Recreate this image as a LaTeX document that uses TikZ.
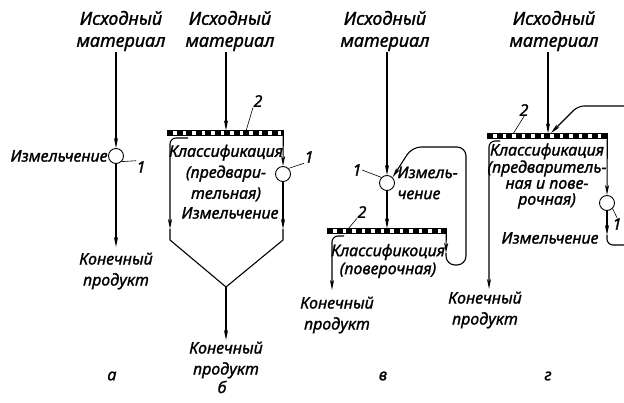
\documentclass[tikz,border=0pt]{standalone}
\usepackage{fontspec}
\setmainfont{Noto Sans}[ItalicFeatures={FakeBold=1.3}]
\usepackage{tikz}
\usetikzlibrary{arrows.meta}

\begin{document}
\begin{tikzpicture}[x=1pt, y=-1pt, line width=1.1pt,
    flow/.style={-{Stealth[length=10pt,width=4pt,inset=2.5pt]}},
    lbl/.style={font=\itshape\fontsize{16}{21}\selectfont, inner sep=0pt, align=center},
    srclbl/.style={lbl, font=\itshape\fontsize{18}{22}\selectfont},
    crusher/.style={draw, circle, fill=white, minimum size=15pt, inner sep=0pt, line width=0.9pt},
    lead/.style={line width=0.6pt},
    sieve/.style={draw, rectangle, minimum height=4.6pt, inner sep=0pt, line width=0.6pt,
      path picture={\draw[line width=4.6pt, dash pattern=on 6pt off 3.5pt]
        (path picture bounding box.west) -- (path picture bounding box.east);}}]
    \useasboundingbox (0,0) rectangle (624,403);

    \node[srclbl] (srcA) at (121,31) {Исходный\\материал};
    \node[crusher] (cA) at (116,156) {};
    \coordinate (inA) at (116,52);
    \coordinate (outA) at (116,247);
    \draw[flow] (inA) -- (cA.north);
    \draw[flow] (cA.south) -- (outA);
    \node[lbl, anchor=east] (grA) at (cA.west) {Измельчение};
    \node[lbl] (prodA) at (116,271) {Конечный\\продукт};
    \node[lbl] (n1A) at (141,167) {1};
    \draw[lead] (cA.south east) -- (n1A.north west);
    \node[lbl] (capA) at (112,376) {а};

    \node[srclbl] (srcB) at (230,31) {Исходный\\материал};
    \node[sieve, minimum width=116pt] (sB) at (225,133) {};
    \node[crusher] (cB) at (283,174) {};
    \coordinate (inB) at (226,52);
    \coordinate (lBtop) at (188,138);
    \coordinate (lB) at (170,229);
    \coordinate (rB) at (283,229);
    \coordinate (lBk) at (170,240);
    \coordinate (rBk) at (283,240);
    \coordinate (jB) at (226,287);
    \coordinate (outB) at (226,340);
    \draw[flow] (inB) -- (inB |- sB.north);
    \draw[flow] (sB.south east) -- (cB.north);
    \draw[flow] (cB.south) -- (rB);
    \draw[flow, rounded corners=6pt] (lBtop) -| (lB);
    \draw[line join=round] (lB) -- (lBk) -- (jB) -- (rBk) -- (rB);
    \draw[flow] (jB) -- (outB);
    \node[lbl] (clB) at (226,173) {Классификация\\(предвари-\\тельная)};
    \node[lbl] (grB) at (230,213) {Измельчение};
    \node[lbl] (n2B) at (258,101) {2};
    \coordinate (p2B) at (246,131);
    \draw[lead] (n2B.south west) -- (p2B);
    \node[lbl] (n1B) at (309,157) {1};
    \draw[lead] (cB.north east) -- (n1B.south west);
    \node[lbl] (prodB) at (226,360) {Конечный\\продукт};
    \node[lbl] (capB) at (222,387) {б};

    \node[srclbl] (srcV) at (385,31) {Исходный\\материал};
    \node[crusher] (cV) at (387,183) {};
    \node[sieve, minimum width=119pt] (sV) at (386.5,231) {};
    \coordinate (inV) at (387,52);
    \coordinate (rV) at (446,253);
    \coordinate (bV) at (466,265);
    \coordinate (tV) at (466,147);
    \coordinate (kV) at (412,147);
    \coordinate (lVtop) at (344,236);
    \coordinate (lV) at (332,290);
    \draw[flow] (inV) -- (cV.north);
    \draw[flow] (cV.south) -- (cV.south |- sV.north);
    \draw[flow] (sV.south east) -- (rV);
    \draw[flow, rounded corners=9pt] (rV) |- (bV) -- (tV) -- (kV) -- (cV.north east);
    \draw[flow, rounded corners=6pt] (lVtop) -| (lV);
    \node[lbl, anchor=west, align=left] (grV) at (397,183) {Измель-\\чение};
    \node[lbl, font=\itshape\fontsize{16}{18}\selectfont] (clV) at (388,261) {Классификоция\\(поверочная)};
    \node[lbl] (prodV) at (337,315) {Конечный\\продукт};
    \node[lbl] (n1V) at (357,170) {1};
    \draw[lead] (n1V.east) -- (cV.north west);
    \node[lbl] (n2V) at (362,212) {2};
    \coordinate (p2V) at (348,229);
    \draw[lead] (n2V.south west) -- (p2V);
    \node[lbl] (capV) at (383,376) {в};

    \node[srclbl] (srcG) at (554,31) {Исходный\\материал};
    \node[sieve, minimum width=120pt] (sG) at (547,136) {};
    \node[crusher] (cG) at (607,203) {};
    \coordinate (inG) at (548,52);
    \coordinate (eG) at (624,106);
    \coordinate (kG) at (578,106);
    \coordinate (hG) at (551,133);
    \coordinate (rG) at (607,235);
    \coordinate (xG) at (624,245);
    \coordinate (lGtop) at (500,141);
    \coordinate (lG) at (489,289);
    \draw[flow] (inG) -- (inG |- sG.north);
    \draw[flow, rounded corners=6pt] (eG) -- (kG) -- (hG);
    \draw[flow] (sG.south east) -- (cG.north);
    \draw[flow] (cG.south) -- (rG);
    \draw[rounded corners=6pt] (rG) |- (xG);
    \draw[flow, rounded corners=6pt] (lGtop) -| (lG);
    \node[lbl, font=\itshape\fontsize{16}{16}\selectfont] (clG) at (547,176) {Классификация\\(предваритель-\\ная и пове-\\рочная)};
    \node[lbl] (grG) at (550,238) {Измельчение};
    \node[lbl] (n1G) at (617,224) {1};
    \draw[lead] (cG.south east) -- (n1G.north);
    \node[lbl] (n2G) at (524,110) {2};
    \coordinate (p2G) at (513,134);
    \draw[lead] (n2G.south) -- (p2G);
    \node[lbl] (prodG) at (485,310) {Конечный\\продукт};
    \node[lbl] (capG) at (548,376) {г};
\end{tikzpicture}
\end{document}
